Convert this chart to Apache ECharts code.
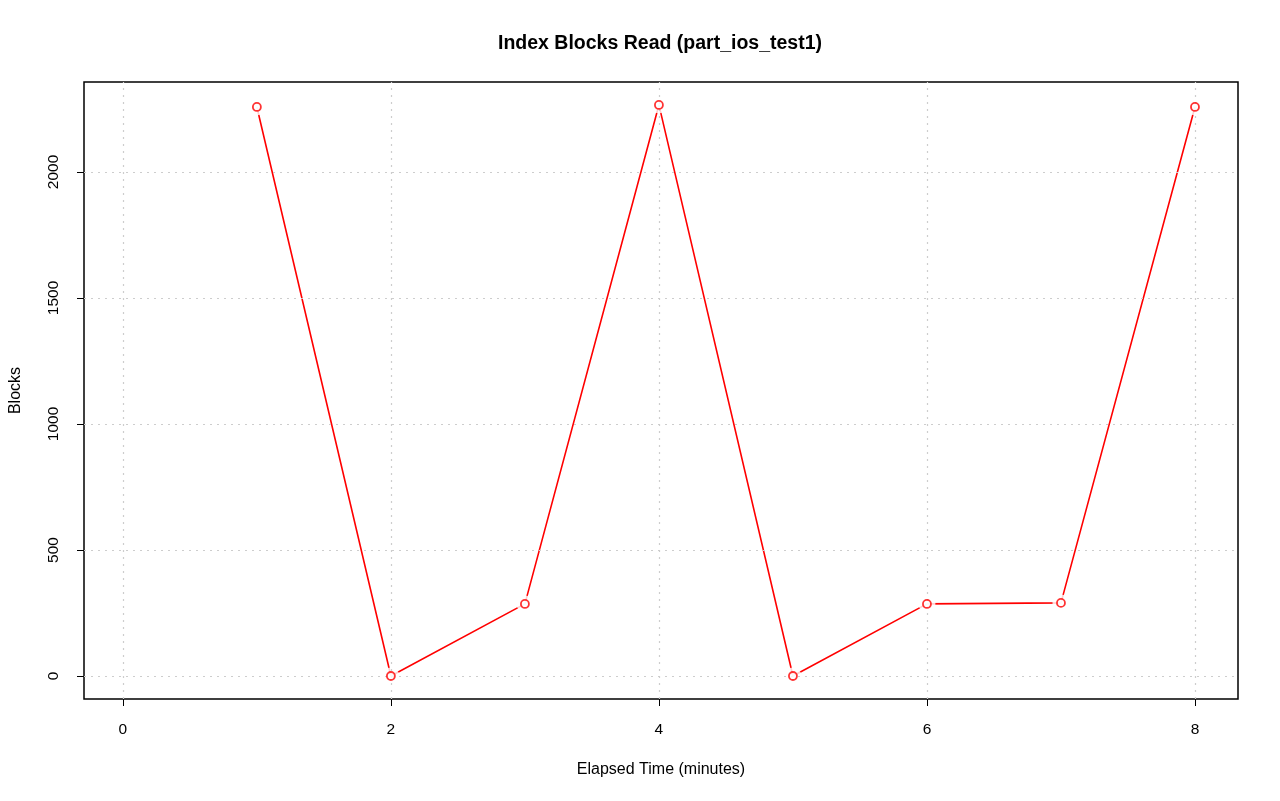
<!DOCTYPE html>
<html>
<head>
<meta charset="utf-8">
<script src="https://cdn.jsdelivr.net/npm/echarts@6/dist/echarts.min.js"></script>
<style>html,body{margin:0;padding:0;background:#fff}#c{width:1280px;height:801px}</style>
</head>
<body>
<div id="c"></div>
<script>
const minutes = [1, 2, 3, 4, 5, 6, 7, 8];
const blocks = [2258, 0, 286, 2266, 0, 286, 290, 2258];
const xTicks = [0, 2, 4, 6, 8];
const yTicks = [0, 500, 1000, 1500, 2000];
const titleText = 'Index Blocks Read (part_ios_test1)';
const xName = 'Elapsed Time (minutes)';
const yName = 'Blocks';

const pts = minutes.map((m, i) => [m, blocks[i]]);
const font = 'Liberation Sans, Arial, sans-serif';
const chart = echarts.init(document.getElementById('c'), null, {renderer: 'canvas'});
chart.setOption({
  animation: false,
  backgroundColor: '#fff',
  graphic: [{
    type: 'text', x: 660, y: 44, silent: true,
    style: {text: titleText, x: 0, y: 0, align: 'center', verticalAlign: 'middle',
      font: 'bold 19.5px ' + font, fill: '#000'}
  }],
  grid: {left: 82, right: 42, top: 82, bottom: 102, show: true, borderColor: '#000', borderWidth: 1.5, backgroundColor: 'transparent'},
  xAxis: {
    type: 'value', min: -0.29, max: 8.321,
    axisLine: {show: false, onZero: false},
    splitLine: {show: false},
    axisTick: {show: true, customValues: xTicks, length: 7, lineStyle: {color: '#000', width: 1}},
    axisLabel: {customValues: xTicks, margin: 23, fontFamily: font, fontSize: 15.5, color: '#000'},
    name: xName, nameLocation: 'middle', nameGap: 63,
    nameTextStyle: {fontFamily: font, fontSize: 16, color: '#000'}
  },
  yAxis: {
    type: 'value', min: -91.3, max: 2357,
    axisLine: {show: false, onZero: false},
    splitLine: {show: false},
    axisTick: {show: true, customValues: yTicks, length: 7, lineStyle: {color: '#000', width: 1}},
    axisLabel: {customValues: yTicks, rotate: 90, margin: 22, fontFamily: font, fontSize: 15.5, color: '#000',
      align: 'center', verticalAlign: 'bottom', formatter: v => String(v)},
    name: yName, nameLocation: 'middle', nameGap: 60,
    nameTextStyle: {fontFamily: font, fontSize: 16, color: '#000'}
  },
  series: [
    {
      type: 'line', data: [], silent: true,
      markLine: {
        silent: true, symbol: 'none', label: {show: false},
        lineStyle: {color: '#CDCDCD', type: [2, 5], width: 1.2},
        data: xTicks.map(v => ({xAxis: v})).concat(yTicks.map(v => ({yAxis: v})))
      }
    },
    {
      type: 'line', data: pts, showSymbol: false, symbol: 'none',
      lineStyle: {color: '#FF0000', width: 1.6}, z: 3
    },
    {
      type: 'scatter', data: pts, symbol: 'circle', symbolSize: 17,
      itemStyle: {color: '#fff'}, z: 4, silent: true
    },
    {
      type: 'scatter', data: pts, symbol: 'circle', symbolSize: 8,
      itemStyle: {color: '#fff', borderColor: '#FF0000', borderWidth: 1.8}, z: 5, silent: true
    }
  ]
});
</script>
</body>
</html>
